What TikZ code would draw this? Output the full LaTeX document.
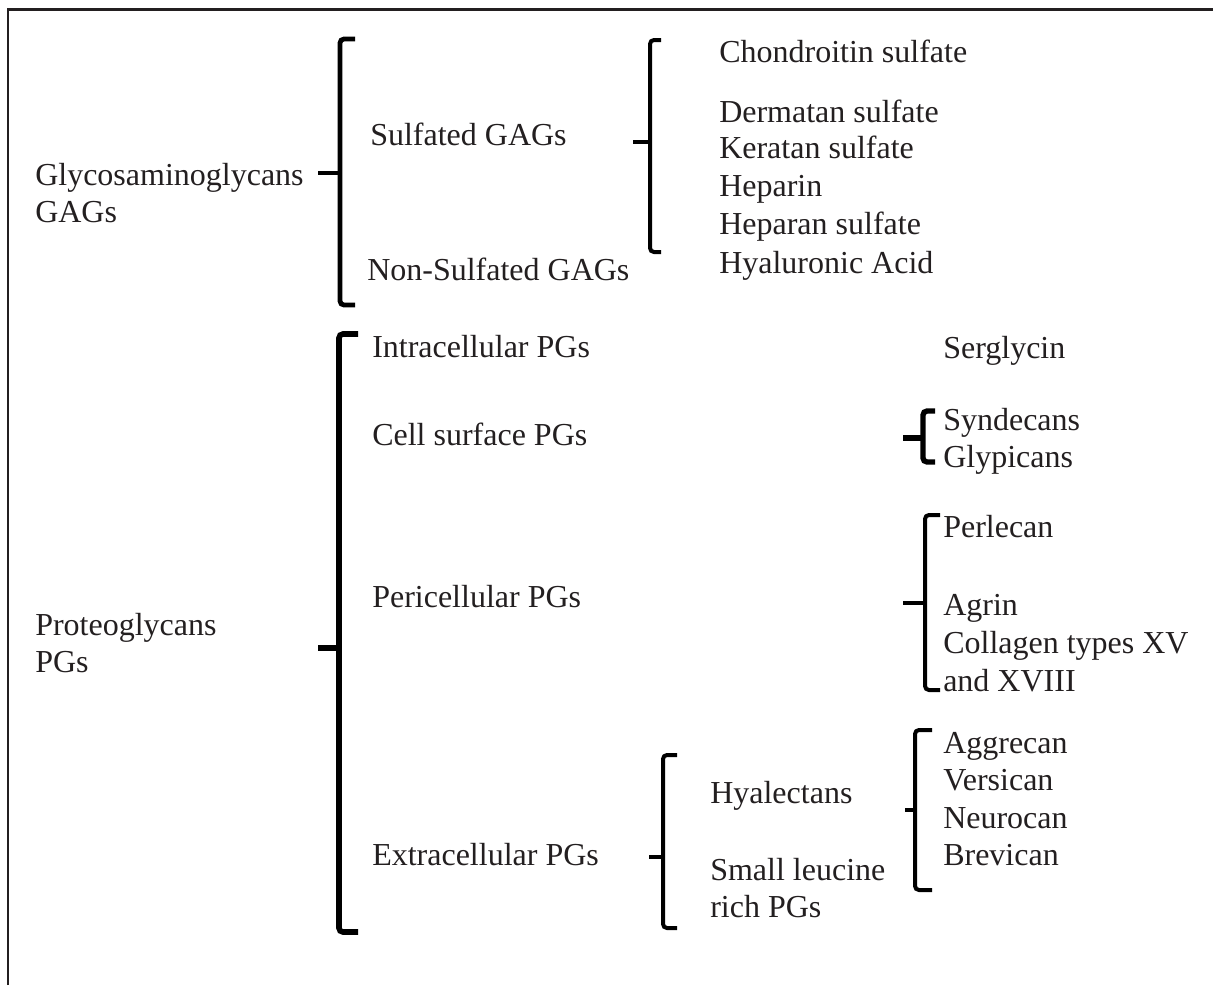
\documentclass[tikz,border=0pt]{standalone}
\usepackage{fontspec}
\setmainfont{Liberation Serif}
\definecolor{ink}{HTML}{231F20}
\begin{document}
\begin{tikzpicture}[x=0.75pt,y=-0.75pt,
  lbl/.style={anchor=base west,inner sep=0pt,text=ink,font=\fontsize{24}{28}\selectfont},
  brace/.style={line width=#1,draw=black,rounded corners=3pt},
  brace/.default=3pt]
\useasboundingbox (0,0) rectangle (1213,985);
\draw[line width=2.2pt,ink] (8,985) -- (8,9.5) -- (1213,9.5);

% texts
\node[lbl] (gag1) at (35,185) {Glycosaminoglycans};
\node[lbl] (gag2) at (35,222) {GAGs};
\node[lbl] (sulf) at (370,145) {Sulfated GAGs};
\node[lbl] (nons) at (367,280) {Non-Sulfated GAGs};
\node[lbl] (chon) at (719,62) {Chondroitin sulfate};
\node[lbl] (derm) at (719,122) {Dermatan sulfate};
\node[lbl] (kera) at (719,158) {Keratan sulfate};
\node[lbl] (hepa) at (719,196) {Heparin};
\node[lbl] (hepas) at (719,234) {Heparan sulfate};
\node[lbl] (hyal) at (719,273) {Hyaluronic Acid};

\node[lbl] (pg1) at (35,635) {Proteoglycans};
\node[lbl] (pg2) at (35,672) {PGs};
\node[lbl] (intra) at (372,357) {Intracellular PGs};
\node[lbl] (cell) at (372,445) {Cell surface PGs};
\node[lbl] (peri) at (372,607) {Pericellular PGs};
\node[lbl] (extra) at (372,865) {Extracellular PGs};
\node[lbl] (serg) at (943,358) {Serglycin};
\node[lbl] (synd) at (943,430) {Syndecans};
\node[lbl] (glyp) at (943,467) {Glypicans};
\node[lbl] (perl) at (943,537) {Perlecan};
\node[lbl] (agri) at (943,615) {Agrin};
\node[lbl] (coll) at (943,653) {Collagen types XV};
\node[lbl] (and) at (943,691) {and XVIII};
\node[lbl] (hyale) at (710,803) {Hyalectans};
\node[lbl] (slr1) at (710,880) {Small leucine};
\node[lbl] (slr2) at (710,917) {rich PGs};
\node[lbl] (aggr) at (943,753) {Aggrecan};
\node[lbl] (vers) at (943,790) {Versican};
\node[lbl] (neur) at (943,828) {Neurocan};
\node[lbl] (brev) at (943,865) {Brevican};

% braces
\draw[brace=3.6pt] (355,39) -- (340,39) -- (340,305) -- (355,305);
\draw[line width=3.6pt] (318,173) -- (340,173);

\draw[brace=3pt] (661,40) -- (650,40) -- (650,252) -- (661,252);
\draw[line width=3pt] (633,142) -- (650,142);

\draw[brace=4.2pt] (358,334) -- (339,334) -- (339,932) -- (358,932);
\draw[line width=4.2pt] (318,648) -- (339,648);

\draw[brace=4pt] (935,411) -- (923,411) -- (923,462) -- (935,462);
\draw[line width=4pt] (903,438) -- (923,438);

\draw[brace=3pt] (940,515) -- (925,515) -- (925,690) -- (940,690);
\draw[line width=3pt] (903,603) -- (925,603);

\draw[brace=3pt] (677,755) -- (663,755) -- (663,928) -- (677,928);
\draw[line width=3pt] (649,857) -- (663,857);

\draw[brace=3pt] (932,730) -- (915,730) -- (915,890) -- (932,890);
\draw[line width=3pt] (905,810) -- (915,810);
\end{tikzpicture}
\end{document}
